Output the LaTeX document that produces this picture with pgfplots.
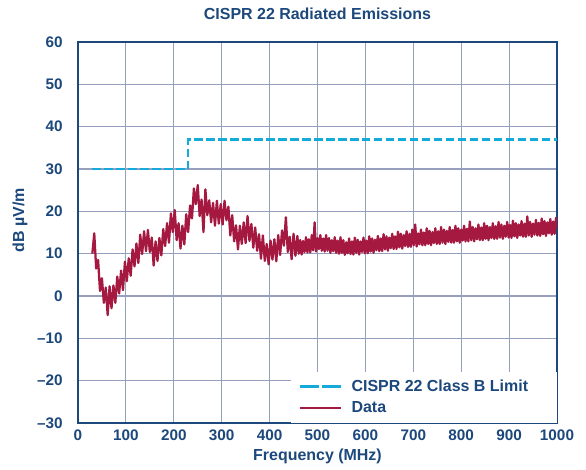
\documentclass[border=0pt]{standalone}
\usepackage{pgfplots}
\pgfplotsset{compat=1.18}
\usepackage{fontspec}
\setmainfont{Liberation Sans}

\definecolor{adiblue}{RGB}{28,72,124}
\definecolor{gridblue}{RGB}{150,160,190}
\definecolor{limitcyan}{RGB}{20,170,220}
\definecolor{datared}{RGB}{165,25,65}

\begin{document}
\begin{tikzpicture}
\begin{axis}[
  scale only axis,
  width=360pt, height=286.3pt,
  xmin=0, xmax=1000, ymin=-30, ymax=60,
  xtick={0,100,...,1000},
  ytick={-30,-20,...,60},
  xticklabels={0,100,200,300,400,500,600,700,800,900,1000},
  yticklabels={--30,--20,--10,0,10,20,30,40,50,60},
  major tick length=0pt,
  grid=major,
  major grid style={gridblue, line width=0.9pt},
  axis line style={adiblue, line width=1.2pt},
  ticklabel style={font=\bfseries\fontsize{11.5}{13}\selectfont, text=adiblue, inner sep=0pt},
  xticklabel style={anchor=base, yshift=-12.8pt},
  yticklabel style={anchor=east, xshift=-11.3pt},
  title={CISPR 22 Radiated Emissions},
  every axis title shift=0pt,
  title style={font=\bfseries\fontsize{12}{14}\selectfont, text=adiblue,
    at={(axis description cs:0.5,1.0594)}, anchor=base, inner sep=0pt},
  xlabel={Frequency (MHz)},
  ylabel={dB µV/m},
  every axis x label/.style={at={(axis description cs:0.5,-0.0985)}, anchor=base,
    font=\bfseries\fontsize{12}{14}\selectfont, text=adiblue, inner sep=0pt},
  every axis y label/.style={at={(axis description cs:-0.1211,0.5328)}, rotate=90, anchor=center,
    font=\bfseries\fontsize{12}{14}\selectfont, text=adiblue, inner sep=0pt},
  legend style={at={(1,0)}, anchor=south east, draw=none, fill=white,
    font=\bfseries\fontsize{12}{14}\selectfont, text=adiblue,
    inner xsep=6pt, inner ysep=4pt, row sep=2.5pt,
    /tikz/every odd column/.append style={column sep=5pt}},
  legend cell align=left,
  legend image code/.code={\draw[#1] (0cm,0cm) -- (1.08cm,0cm);},
]
  \coordinate (sw) at (rel axis cs:0,0);
  \coordinate (ne) at (rel axis cs:1,1);

  % limit line
  \addplot[limitcyan, line width=1.8pt, dash pattern=on 6.3pt off 2.7pt,
    legend image post style={dash pattern=on 14pt off 2.8pt}]
    coordinates {(30,30) (230,30) (230,37) (1000,37)};
  \addlegendentry{CISPR 22 Class B Limit\rule{13.5pt}{0pt}}

  % measured data
  \addplot[datared, line width=1.7pt, line join=round] coordinates {
    (30,10.0) (34,14.8) (38,6.5) (42,8.5) (46,1.2) (50,4.2) (54,-1.6) (58,2.0)
    (62,-4.5) (66,2.3) (70,-2.9) (74,2.5) (78,-1.6) (82,4.6) (86,0.6) (90,6.0)
    (94,1.4) (98,8.1) (102,3.5) (106,8.9) (110,4.8) (114,11.0) (118,7.0) (122,12.4)
    (126,7.8) (130,14.5) (134,9.9) (138,15.3) (142,10.6) (146,15.6) (150,10.4) (154,13.8)
    (158,7.2) (162,12.9) (166,8.3) (170,13.7) (174,9.6) (178,15.8) (182,11.8) (186,17.2)
    (190,12.6) (194,19.5) (198,15.1) (202,20.3) (206,13.2) (210,17.2) (214,11.2) (218,16.6)
    (222,12.2) (226,19.3) (230,15.1) (234,21.4) (238,18.3) (242,25.4) (246,21.7) (250,26.2)
    (254,18.9) (258,22.8) (262,15.1) (266,25.2) (270,19.1) (274,22.6) (278,17.4) (282,22.0)
    (286,16.6) (290,22.5) (294,17.1) (298,21.7) (302,16.9) (306,22.5) (310,17.9) (314,21.1)
    (318,14.3) (322,19.1) (326,12.9) (330,16.7) (334,11.0) (338,16.6) (342,12.3) (346,17.4)
    (350,12.5) (354,18.9) (358,13.0) (362,17.0) (366,11.4) (370,16.2) (374,10.7) (378,14.6)
    (382,8.8) (386,14.3) (390,8.3) (394,12.3) (398,7.5) (402,13.1) (406,8.6) (410,13.4)
    (414,8.2) (418,14.4) (422,9.7) (426,15.5) (430,11.9) (434,18.6) (438,10.4) (442,14.0)
    (446,8.7) (450,14.7) (454,9.5) (458,14.2)
    (461,10.0) (464,13.2) (467,9.8) (470,13.0) (473,10.4) (476,13.9) (479,10.3) (482,13.4)
    (485,10.3) (488,14.4) (491,10.8) (494,17.4) (497,10.5) (500,13.7) (503,11.1) (506,14.4)
    (509,10.7) (512,13.6) (515,10.5) (518,14.4) (521,10.7) (524,13.7) (527,10.2) (530,13.2)
    (533,10.6) (536,13.9) (539,10.2) (542,13.1) (545,10.0) (548,13.9) (551,10.2) (554,13.2)
    (557,9.7) (560,12.7) (563,10.1) (566,13.6) (569,9.9) (572,12.9) (575,9.8) (578,13.8)
    (581,10.2) (584,13.3) (587,9.8) (590,12.9) (593,10.4) (596,13.8) (599,10.1) (602,13.1)
    (605,10.1) (608,14.1) (611,10.5) (614,13.6) (617,10.2) (620,13.3) (623,10.8) (626,14.2)
    (629,10.6) (632,13.6) (635,10.6) (638,14.6) (641,11.0) (644,14.1) (647,10.7) (650,13.8)
    (653,11.3) (656,14.7) (659,11.1) (662,14.1) (665,11.1) (668,15.2) (671,11.5) (674,14.7)
    (677,11.2) (680,14.4) (683,11.8) (686,15.3) (689,11.6) (692,14.7) (695,11.6) (698,15.7)
    (701,12.0) (704,16.9) (707,11.7) (710,14.8) (713,12.2) (716,15.7) (719,12.0) (722,15.0)
    (725,12.0) (728,16.0) (731,12.3) (734,15.4) (737,12.0) (740,15.1) (743,12.5) (746,16.0)
    (749,12.3) (752,15.3) (755,12.3) (758,16.3) (761,12.6) (764,15.7) (767,12.3) (770,15.4)
    (773,12.8) (776,16.3) (779,12.6) (782,15.6) (785,12.6) (788,16.6) (791,12.9) (794,16.0)
    (797,12.6) (800,15.7) (803,13.1) (806,16.6) (809,12.9) (812,15.9) (815,12.9) (818,17.6)
    (821,13.2) (824,16.3) (827,12.9) (830,16.0) (833,13.4) (836,16.9) (839,13.2) (842,16.2)
    (845,13.2) (848,17.2) (851,13.5) (854,16.6) (857,13.2) (860,16.3) (863,13.7) (866,17.2)
    (869,13.5) (872,16.5) (875,13.5) (878,17.5) (881,13.8) (884,16.9) (887,13.5) (890,16.6)
    (893,14.0) (896,17.5) (899,13.8) (902,16.8) (905,13.7) (908,17.8) (911,14.1) (914,17.2)
    (917,13.7) (920,16.9) (923,14.3) (926,17.7) (929,14.0) (932,17.1) (935,14.0) (938,18.8)
    (941,14.3) (944,17.5) (947,14.0) (950,17.1) (953,14.5) (956,18.0) (959,14.3) (962,17.3)
    (965,14.2) (968,18.3) (971,14.6) (974,17.7) (977,14.2) (980,17.4) (983,14.8) (986,18.2)
    (989,14.5) (992,17.6) (995,14.7) (998,18.5) (1000,15.8)
  };
  \addlegendentry{Data}
\end{axis}
% fix the page to the reference's margins round the axis
\pgfresetboundingbox
\path (sw) ++(-58.6pt,-35.3pt) rectangle ([shift={(21.8pt,31.6pt)}]ne);
\end{tikzpicture}
\end{document}
